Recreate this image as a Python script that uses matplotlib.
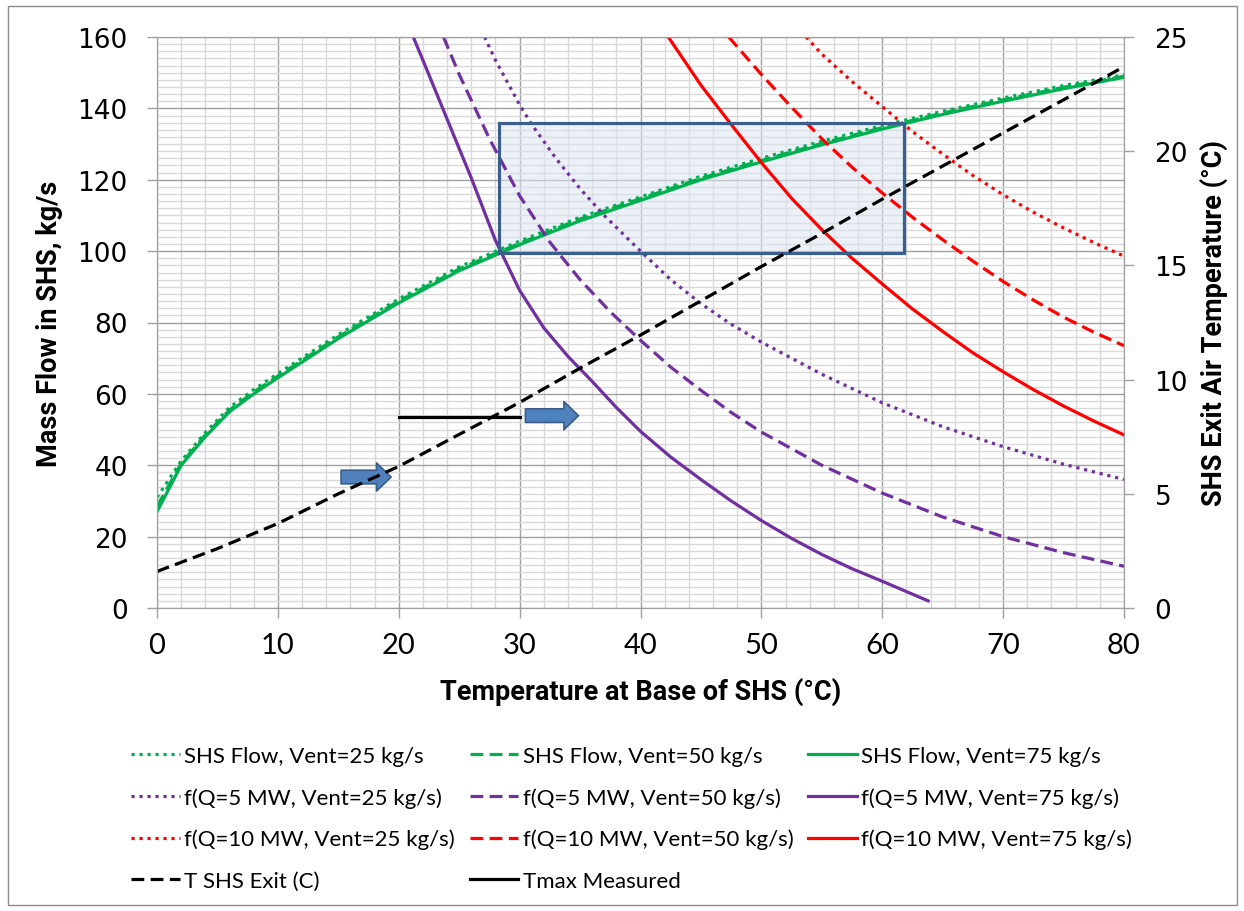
import matplotlib.pyplot as plt
from matplotlib.patches import Rectangle, FancyArrowPatch
from matplotlib.ticker import MultipleLocator

# SHS mass flow (left axis), three vent rates
green_x = [0, 2, 4, 6, 8, 10, 15, 20, 25, 30, 35, 40, 45, 50, 55, 60, 65, 70, 75, 80]
flow_v25 = [31, 41.2, 49.2, 56.2, 61.2, 65.7, 76.6, 86.6, 95.6, 102.8, 109.5, 115.2, 121, 126, 130.8, 135.2, 139.2, 142.9, 146.4, 149.4]
flow_v50 = [28.5, 40.5, 48.5, 55.5, 60.5, 65, 76, 86, 95, 102.2, 109, 114.7, 120.4, 125.4, 130.2, 134.6, 138.7, 142.4, 145.9, 149]
flow_v75 = [27, 40, 48, 55, 60, 64.5, 75.5, 85.5, 94.5, 101.8, 108.5, 114.2, 120, 125, 129.8, 134.2, 138.3, 142, 145.5, 148.7]

# f(Q=5 MW)
q5_v25_x = [27.1, 28, 30, 31, 33, 35, 37, 40, 42.5, 45, 47.5, 50, 55, 60, 65, 70, 75, 80]
q5_v25 = [160, 153.5, 141, 135.5, 126, 117.5, 110, 100, 92, 85.3, 79.5, 74.5, 65.5, 57.5, 50.8, 45.2, 40.3, 36]
q5_v50_x = [23.7, 25, 27.5, 30, 32.5, 35, 37.5, 40, 42.5, 45, 47.5, 50, 55, 60, 65, 70, 75, 80]
q5_v50 = [160, 149.5, 131.5, 115.5, 102.5, 92, 83, 75, 67.5, 61, 54.8, 49.3, 40, 32.2, 25.5, 20, 15.5, 11.7]
q5_v75_x = [21.2, 22, 24, 26, 28, 30, 32, 34, 36, 38, 40, 42.5, 45, 47.5, 50, 52.5, 55, 57.5, 60, 62, 63.8]
q5_v75 = [160, 153.5, 137, 120.5, 103, 89, 78.5, 70.5, 63.5, 56.2, 49.5, 42.3, 36, 30, 24.5, 19.5, 15, 11, 7.5, 4.6, 2]

# f(Q=10 MW)
q10_v25_x = [53.7, 55, 57.5, 60, 62.5, 65, 67.5, 70, 72.5, 75, 77.5, 80]
q10_v25 = [160, 155.2, 147.5, 140.5, 133.5, 127.2, 121.2, 115.8, 110.9, 106.5, 102.4, 98.6]
q10_v50_x = [47.3, 50, 52.5, 55, 57.5, 60, 62.5, 65, 67.5, 70, 72.5, 75, 77.5, 80]
q10_v50 = [160, 149.5, 140.3, 131.5, 123.5, 116.3, 109.5, 103.2, 97.2, 91.5, 86.3, 81.5, 77.3, 73.5]
q10_v75_x = [42.3, 43.5, 45, 47.5, 50, 52.5, 55, 57.5, 60, 62.5, 65, 67.5, 70, 72.5, 75, 77.5, 80]
q10_v75 = [160, 154, 146.5, 135.5, 124.8, 114.8, 106, 98, 90.8, 83.8, 77.5, 71.5, 66.2, 61.2, 56.6, 52.4, 48.5]

# exit temperature (right axis)
exit_x = [0, 5, 10, 15, 20, 25, 30, 35, 40, 45, 50, 55, 60, 65, 70, 75, 80]
exit_t = [1.6, 2.6, 3.7, 5.0, 6.2, 7.6, 9.0, 10.5, 11.95, 13.45, 14.95, 16.4, 17.9, 19.35, 20.8, 22.25, 23.7]
tmax_x = [20, 30]
tmax_t = [8.35, 8.35]

# operating window box and arrows
box_x = (28.3, 61.8)
box_y = (99.5, 136)
arrows = [((15.0, 36.7), (19.6, 36.7)), ((30.25, 53.9), (35.1, 53.9))]

GREEN = '#00B050'
PURPLE = '#7030A0'
RED = '#FF0000'
DOT = (0, (1, 1.5))
DASH = (0, (4, 2))
LW = 2.3
TEXT_FONT = ['Lato', 'DejaVu Sans']
BOLD_FONT = ['Roboto', 'DejaVu Sans']

fig = plt.figure(figsize=(12.44, 9.12), dpi=100)
ax = fig.add_axes([157 / 1244, 1 - 609 / 912, 967 / 1244, 571 / 912])
ax2 = ax.twinx()

ax.set_xlim(0, 80)
ax.set_ylim(0, 160)
ax2.set_ylim(0, 25)
ax.xaxis.set_major_locator(MultipleLocator(10))
ax.xaxis.set_minor_locator(MultipleLocator(2))
ax.yaxis.set_major_locator(MultipleLocator(20))
ax.yaxis.set_minor_locator(MultipleLocator(2))
ax2.yaxis.set_major_locator(MultipleLocator(5))
ax.grid(which='minor', color='#D9D9D9', lw=1.0)
ax.grid(which='major', color='#A0A0A0', lw=1.0)
ax.set_axisbelow(True)

for a in (ax, ax2):
    for s in a.spines.values():
        s.set_color('#A0A0A0')
ax.tick_params(which='minor', length=0)
ax.tick_params(axis='y', which='major', length=7, color='#A0A0A0', width=1, pad=14, labelsize=19)
ax.tick_params(axis='x', which='major', length=7, color='#A0A0A0', width=1, pad=10)
ax2.tick_params(length=7, color='#A0A0A0', width=1, pad=15, labelsize=19)

for lbl in ax.get_xticklabels():
    lbl.set_fontfamily(TEXT_FONT)
    lbl.set_fontsize(21)

ax.set_xlabel('Temperature at Base of SHS (°C)', family=BOLD_FONT, fontsize=19.5, fontweight='bold')
ax.set_ylabel('Mass Flow in SHS, kg/s', family=BOLD_FONT, fontsize=19.5, fontweight='bold')
ax2.set_ylabel('SHS Exit Air Temperature (°C)', family=BOLD_FONT, fontsize=19.5, fontweight='bold')
ax.xaxis.set_label_coords(0.5, (609 - 692) / 571)
ax.yaxis.set_label_coords((50 - 157) / 967, 0.5)
ax2.yaxis.set_label_coords((1214 - 157) / 967, 0.5)
for lab in (ax.xaxis.label, ax.yaxis.label, ax2.yaxis.label):
    lab.set_verticalalignment('center')
    lab.set_horizontalalignment('center')

ax.add_patch(Rectangle((box_x[0], box_y[0]), box_x[1] - box_x[0], box_y[1] - box_y[0],
                       facecolor='#DCE6F2', alpha=0.55, edgecolor='none', zorder=1.5))
ax.add_patch(Rectangle((box_x[0], box_y[0]), box_x[1] - box_x[0], box_y[1] - box_y[0],
                       facecolor='none', edgecolor='#3B5F8C', lw=2.3, zorder=4))

h = []
h += ax.plot(green_x, flow_v75, color=GREEN, lw=LW, label='SHS Flow, Vent=75 kg/s')
h += ax.plot(green_x, flow_v50, color=GREEN, lw=LW, ls=DASH, label='SHS Flow, Vent=50 kg/s')
h += ax.plot(green_x, flow_v25, color=GREEN, lw=LW, ls=DOT, label='SHS Flow, Vent=25 kg/s')
h += ax.plot(q5_v25_x, q5_v25, color=PURPLE, lw=LW, ls=DOT, label='f(Q=5 MW, Vent=25 kg/s)')
h += ax.plot(q5_v50_x, q5_v50, color=PURPLE, lw=LW, ls=DASH, label='f(Q=5 MW, Vent=50 kg/s)')
h += ax.plot(q5_v75_x, q5_v75, color=PURPLE, lw=LW, label='f(Q=5 MW, Vent=75 kg/s)')
h += ax.plot(q10_v25_x, q10_v25, color=RED, lw=LW, ls=DOT, label='f(Q=10 MW, Vent=25 kg/s)')
h += ax.plot(q10_v50_x, q10_v50, color=RED, lw=LW, ls=DASH, label='f(Q=10 MW, Vent=50 kg/s)')
h += ax.plot(q10_v75_x, q10_v75, color=RED, lw=LW, label='f(Q=10 MW, Vent=75 kg/s)')
h += ax2.plot(exit_x, exit_t, color='black', lw=LW, ls=DASH, label='T SHS Exit (C)')
h += ax2.plot(tmax_x, tmax_t, color='black', lw=LW, label='Tmax Measured')

for start, end in arrows:
    ax.add_patch(FancyArrowPatch(start, end, arrowstyle='simple,head_length=0.75,head_width=1.45,tail_width=0.7',
                                 mutation_scale=14, facecolor='#4F81BD', edgecolor='#385D8A', lw=1.2,
                                 zorder=6, clip_on=False))

g75, g50, g25, p25, p50, p75, r25, r50, r75, tex, tmx = h
order = [g25, p25, r25, tex, g50, p50, r50, tmx, g75, p75, r75]
fig.legend(handles=order, labels=[o.get_label() for o in order], ncol=3,
           loc='upper left', bbox_to_anchor=(131 / 1244, 1 - 747 / 912),
           borderaxespad=0, borderpad=0, frameon=False, prop={'family': TEXT_FONT, 'size': 16},
           handlelength=2.2, handletextpad=0.2, columnspacing=0.65, labelspacing=0.95)

fig.patches.append(Rectangle((8 / 1244, 1 - 906 / 912), 1229 / 1244, 899 / 912,
                             transform=fig.transFigure, fill=False, edgecolor='#8C8C8C', lw=1))

fig.savefig('out.png', dpi=100)
